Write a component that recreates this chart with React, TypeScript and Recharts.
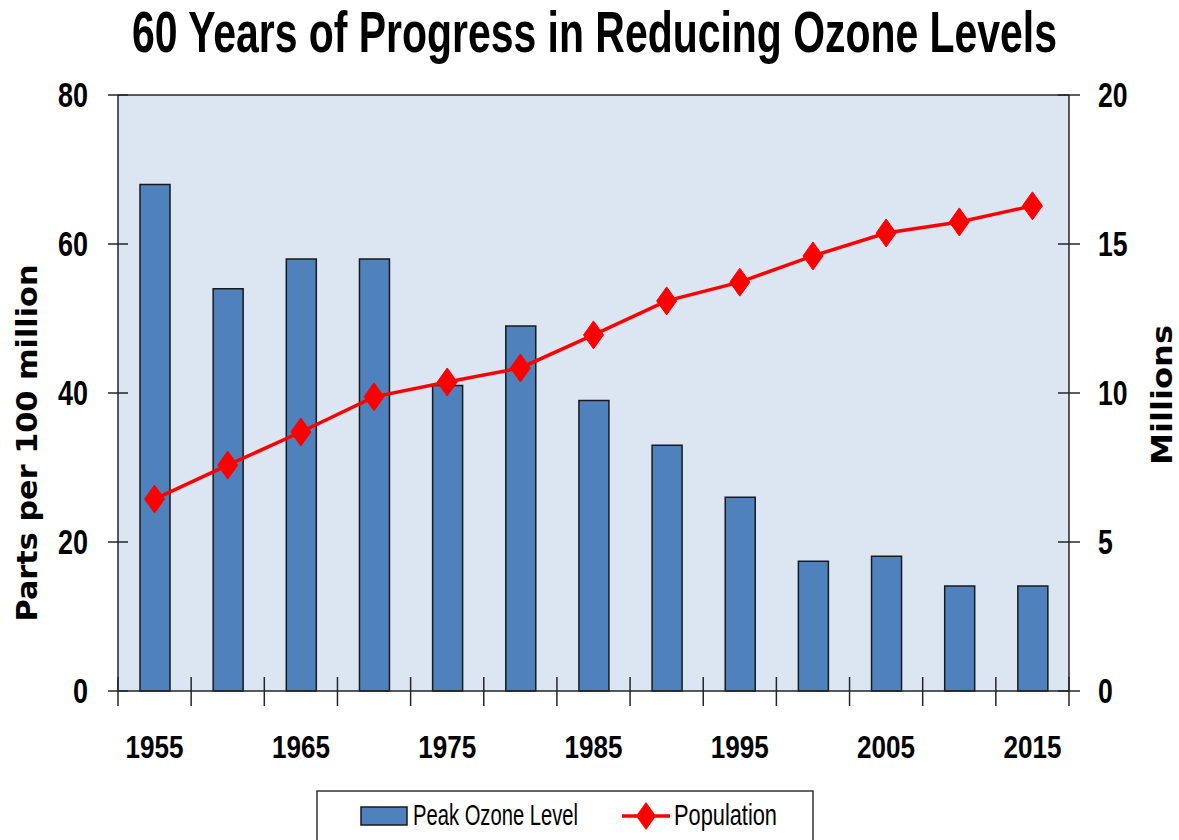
import React from "react";
import {
  ComposedChart,
  Bar,
  Line,
  XAxis,
  YAxis,
  CartesianGrid,
  ReferenceLine,
  Label,
} from "recharts";

const years = ["1955", "1960", "1965", "1970", "1975", "1980", "1985", "1990", "1995", "2000", "2005", "2010", "2015"];
const peakOzone = [68, 54, 58, 58, 41, 49, 39, 33, 26, 17.4, 18.1, 14.1, 14.1];
const population = [6.44, 7.58, 8.69, 9.87, 10.37, 10.84, 11.95, 13.09, 13.72, 14.6, 15.37, 15.74, 16.28];
const ozoneTicks = [0, 20, 40, 60, 80];
const popTicks = [0, 5, 10, 15, 20];
const labelledYears = ["1955", "1965", "1975", "1985", "1995", "2005", "2015"];

const data = years.map((year, i) => ({
  year,
  ozone: peakOzone[i],
  population: population[i],
}));

const W = 1179;
const H = 840;
const PLOT_LEFT = 118;
const PLOT_RIGHT = 1069;
const PLOT_TOP = 95;
const PLOT_BOTTOM = 691;
const band = (PLOT_RIGHT - PLOT_LEFT) / years.length;

// Arial-metric font squeezed to look like Arial Narrow
const SANS = "'Liberation Sans', Arial, sans-serif";
const VERDANA = "'DejaVu Sans', Verdana, sans-serif";
const AXIS_COLOR = "#262626";

const NarrowText = (props: any) => {
  const { x, y, anchor = "start", size, width, bold = true, children, font = SANS, ...rest } = props;
  return (
    <text
      x={x}
      y={y}
      textAnchor={anchor}
      fontFamily={font}
      fontWeight={bold ? "bold" : "normal"}
      fontSize={size}
      fill="#000"
      textLength={width}
      lengthAdjust="spacingAndGlyphs"
      {...rest}
    >
      {children}
    </text>
  );
};

const LeftTick = (props: any) => {
  const { x, y, payload } = props;
  const s = String(payload.value);
  return (
    <g>
      <line x1={x - 10} x2={x + 10} y1={y} y2={y} stroke={AXIS_COLOR} strokeWidth={1.5} />
      <NarrowText x={x - 30} y={y + 12} anchor="end" size={35} width={s.length * 15}>
        {s}
      </NarrowText>
    </g>
  );
};

const RightTick = (props: any) => {
  const { x, y, payload } = props;
  const s = String(payload.value);
  return (
    <g>
      <line x1={x - 11} x2={x + 11} y1={y} y2={y} stroke={AXIS_COLOR} strokeWidth={1.5} />
      <NarrowText x={x + 29} y={y + 12} size={35} width={s.length * 14.8}>
        {s}
      </NarrowText>
    </g>
  );
};

const YearTick = (props: any) => {
  const { x, y, payload } = props;
  const idx = years.indexOf(payload.value);
  const left = x - band / 2;
  return (
    <g>
      <line x1={left} x2={left} y1={y - 14} y2={y + 15} stroke={AXIS_COLOR} strokeWidth={1.5} />
      {idx === years.length - 1 && (
        <line x1={x + band / 2} x2={x + band / 2} y1={y - 14} y2={y + 15} stroke={AXIS_COLOR} strokeWidth={1.5} />
      )}
      {labelledYears.includes(payload.value) && (
        <NarrowText x={x} y={y + 67} anchor="middle" size={32} width={58}>
          {payload.value}
        </NarrowText>
      )}
    </g>
  );
};

const Diamond = (props: any) => {
  const { cx, cy } = props;
  if (cx == null || cy == null) return null;
  return (
    <polygon
      points={`${cx},${cy - 14} ${cx + 10},${cy} ${cx},${cy + 14} ${cx - 10},${cy}`}
      fill="#FF0000"
      stroke="#FF0000"
      strokeWidth={1}
    />
  );
};

const TITLE_SQUEEZE = 0.716;

export default function App() {
  return (
    <div
      style={{
        position: "absolute",
        left: 0,
        top: 0,
        width: W,
        height: H,
        background: "#fff",
        overflow: "hidden",
      }}
    >
      <svg width={W} height={80} style={{ position: "absolute", left: 0, top: 0 }}>
        <g transform={`translate(132 52) scale(${TITLE_SQUEEZE} 1)`}>
          <NarrowText x={0} y={0} size={57} width={925 / TITLE_SQUEEZE}>
            60 Years of Progress in Reducing Ozone Levels
          </NarrowText>
        </g>
      </svg>

      <div style={{ position: "absolute", left: 0, top: 0 }}>
        <ComposedChart
          width={W}
          height={H}
          data={data}
          margin={{ top: PLOT_TOP, right: 0, bottom: 0, left: 0 }}
        >
          <CartesianGrid horizontal={false} vertical={false} fill="#DCE6F2" fillOpacity={1} />
          <XAxis
            dataKey="year"
            height={H - PLOT_BOTTOM}
            interval={0}
            tickLine={false}
            tickSize={0}
            tickMargin={0}
            tick={<YearTick />}
            axisLine={{ stroke: AXIS_COLOR, strokeWidth: 1.5 }}
          />
          <YAxis
            yAxisId="left"
            width={PLOT_LEFT}
            domain={[0, 80]}
            ticks={ozoneTicks}
            tickLine={false}
            tickSize={0}
            tickMargin={0}
            tick={<LeftTick />}
            axisLine={{ stroke: AXIS_COLOR, strokeWidth: 1.5 }}
          >
            <Label
              content={() => (
                <NarrowText
                  x={27}
                  y={443}
                  transform="rotate(-90 27 443)"
                  anchor="middle"
                  dominantBaseline="central"
                  font={VERDANA}
                  size={29}
                  width={357}
                >
                  Parts per 100 million
                </NarrowText>
              )}
            />
          </YAxis>
          <YAxis
            yAxisId="right"
            orientation="right"
            width={W - PLOT_RIGHT}
            domain={[0, 20]}
            ticks={popTicks}
            tickLine={false}
            tickSize={0}
            tickMargin={0}
            tick={<RightTick />}
            axisLine={{ stroke: AXIS_COLOR, strokeWidth: 1.5 }}
          >
            <Label
              content={() => (
                <NarrowText
                  x={1162}
                  y={395}
                  transform="rotate(-90 1162 395)"
                  anchor="middle"
                  dominantBaseline="central"
                  font={VERDANA}
                  size={29}
                  width={140}
                >
                  Millions
                </NarrowText>
              )}
            />
          </YAxis>
          <ReferenceLine yAxisId="left" y={80} stroke={AXIS_COLOR} strokeWidth={1.5} />
          <Bar
            yAxisId="left"
            dataKey="ozone"
            barSize={30}
            fill="#4F81BD"
            stroke="#1a1a1a"
            strokeWidth={1.5}
            isAnimationActive={false}
          />
          <Line
            yAxisId="right"
            dataKey="population"
            type="linear"
            stroke="#FF0000"
            strokeWidth={3.5}
            dot={<Diamond />}
            activeDot={false}
            isAnimationActive={false}
          />
        </ComposedChart>
      </div>

      <svg width={500} height={52} style={{ position: "absolute", left: 316, top: 790 }}>
        <rect x={1} y={1} width={496} height={60} fill="#fff" stroke="#333" strokeWidth={1.5} />
        <rect x={45} y={17} width={46} height={18} fill="#4F81BD" stroke="#1a1a1a" strokeWidth={1.5} />
        <NarrowText x={97} y={35} size={30} bold={false} width={165}>
          Peak Ozone Level
        </NarrowText>
        <line x1={306} x2={354} y1={26} y2={26} stroke="#FF0000" strokeWidth={3.5} />
        <polygon points="330,12 340,26 330,40 320,26" fill="#FF0000" />
        <NarrowText x={358} y={35} size={30} bold={false} width={103}>
          Population
        </NarrowText>
      </svg>
    </div>
  );
}
